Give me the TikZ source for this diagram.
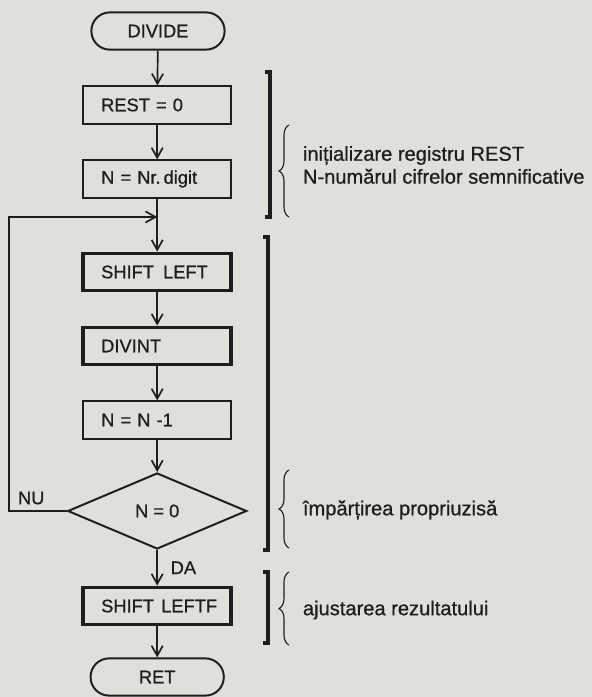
\documentclass[tikz,border=0pt]{standalone}
\usepackage{fontspec}
\setmainfont{Liberation Sans}[FakeBold=0.7]
\usepackage{tikz}
\usetikzlibrary{decorations.pathreplacing}
\usetikzlibrary{positioning, calc, arrows.meta, shapes.geometric}
\definecolor{Ink}{HTML}{1E1E1E}
\definecolor{Paper}{HTML}{E0DFDA}
\tikzset{
    termnode/.style={rectangle, rounded corners=0.46cm, draw=Ink, line width=1.4pt, minimum width=3.33cm, minimum height=0.93cm, text=Ink, font=\fontsize{13}{15}\selectfont},
    opnode/.style={rectangle, draw=Ink, line width=1.4pt, minimum height=0.93cm, text width=2.8cm, inner xsep=0.45cm, align=left, text=Ink, font=\fontsize{13}{15}\selectfont},
    boldnode/.style={opnode, line width=2.6pt},
    testnode/.style={diamond, draw=Ink, line width=1.4pt, minimum width=4.475cm, minimum height=1.9cm, inner sep=0pt, text=Ink, font=\fontsize{13}{15}\selectfont},
    tag/.style={text=Ink, font=\fontsize{13}{15}\selectfont},
    note/.style={anchor=west, align=left, text=Ink, font=\fontsize{14.3}{16.3}\selectfont},
    arrow/.style={-{Straight Barb[length=2.5mm, width=2.8mm]}, line width=1.2pt, color=Ink},
    barbracket/.style={line width=2.8pt, color=Ink},
    curly/.style={decorate, decoration={brace, amplitude=0.25cm}, line width=0.8pt, color=Ink},
}

\begin{document}
\begin{tikzpicture}
    % Hartia (fundal)
    \fill[Paper] (0,0) rectangle (14.8,17.425);

    % Blocurile schemei
    \node[termnode] (divide) at (3.95, 16.65) {DIVIDE};
    \node[opnode] (rest) at (3.93, 14.8) {REST = 0};
    \node[opnode] (nrdigit) at (3.93, 12.95) {N = Nr.\,digit};
    \coordinate (join) at (3.93, 12.0);
    \node[boldnode] (shiftl) at (3.93, 10.625) {\mbox{SHIFT\hspace{0.5em}LEFT}};
    \node[boldnode] (divint) at (3.93, 8.775) {DIVINT};
    \node[opnode] (ndec) at (3.93, 6.925) {N = N -1};
    \node[testnode] (test) at (3.93, 4.65) {N = 0};
    \node[boldnode] (shiftlf) at (3.93, 2.275) {\mbox{SHIFT\hspace{0.4em}LEFTF}};
    \node[termnode] (ret) at (3.93, 0.5) {RET};

    % Legaturi
    \draw[arrow] (divide) -- (rest);
    \draw[arrow] (rest) -- (nrdigit);
    \draw[arrow] (nrdigit) -- (shiftl);
    \draw[arrow] (shiftl) -- (divint);
    \draw[arrow] (divint) -- (ndec);
    \draw[arrow] (ndec) -- (test);
    \draw[arrow] (test) -- (shiftlf) node[tag, midway, right=0.2cm] (da) {DA};
    \draw[arrow] (shiftlf) -- (ret);

    % Bucla NU
    \coordinate (loopl) at (0.225, 4.65);
    \draw[arrow] (test.west) -- (loopl) |- (join);
    \node[tag] (nu) at (0.78, 4.975) {NU};

    % Paranteze drepte
    \draw[barbracket] (6.625, 15.625) -- (6.75, 15.625) -- (6.75, 12.0) -- (6.625, 12.0);
    \draw[barbracket] (6.575, 11.5) -- (6.7, 11.5) -- (6.7, 3.675) -- (6.575, 3.675);
    \draw[barbracket] (6.575, 3.125) -- (6.7, 3.125) -- (6.7, 1.35) -- (6.575, 1.35);

    % Acolade
    \draw[curly] (7.225, 12.0) -- (7.225, 14.3);
    \draw[curly] (7.225, 3.725) -- (7.225, 5.675);
    \draw[curly] (7.225, 1.3) -- (7.225, 3.125);

    % Comentarii
    \node[note] (lblinit) at (7.45, 13.3) {inițializare registru REST\\N-numărul cifrelor semnificative};
    \node[note] (lbldiv) at (7.45, 4.675) {împărțirea propriuzisă};
    \node[note] (lbladj) at (7.45, 2.175) {ajustarea rezultatului};
\end{tikzpicture}
\end{document}
